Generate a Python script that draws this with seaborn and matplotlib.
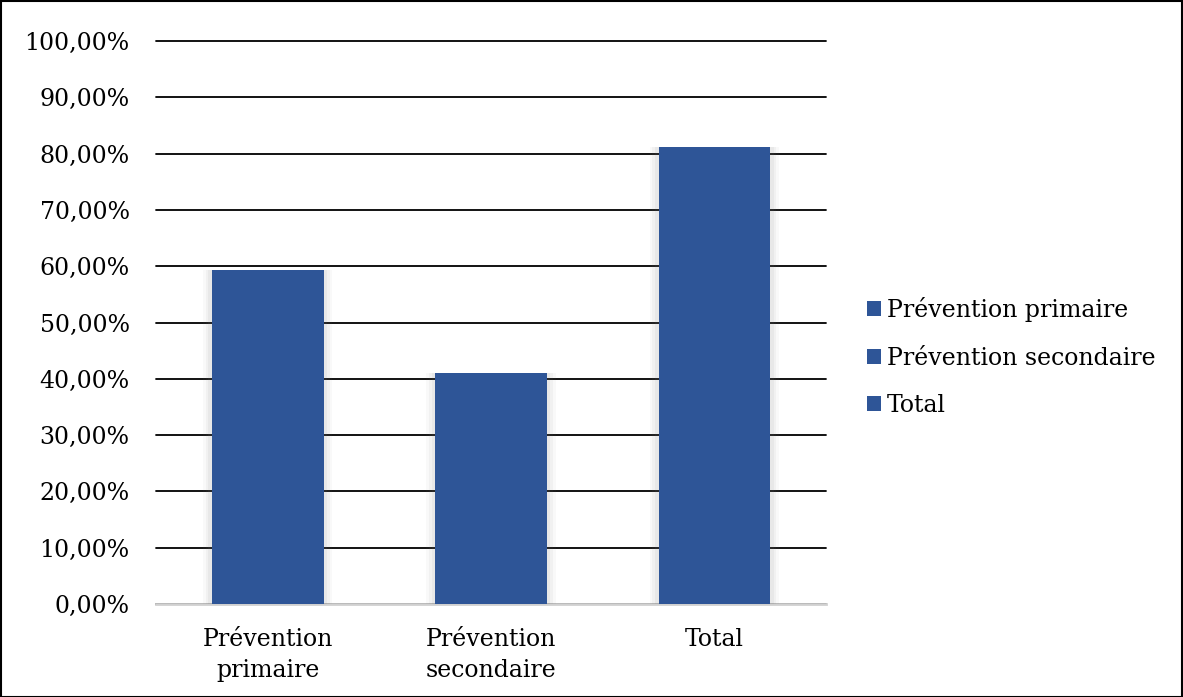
import matplotlib
matplotlib.use("Agg")
import matplotlib.pyplot as plt
import seaborn as sns
import pandas as pd
from matplotlib.patches import Patch, Rectangle
from matplotlib.ticker import FuncFormatter

categories = ["Prévention\nprimaire", "Prévention\nsecondaire", "Total"]
legend_labels = ["Prévention primaire", "Prévention secondaire", "Total"]
values = [59.3, 41.0, 81.2]
yticks = [0, 10, 20, 30, 40, 50, 60, 70, 80, 90, 100]

sns.set_theme(style="white")
plt.rcParams["font.family"] = ["DejaVu Serif"]

FS = 17
df = pd.DataFrame({"cat": categories, "val": values})
color = "#2E5597"

fig = plt.figure(figsize=(11.83, 6.97), dpi=100)
ax = fig.add_axes([156/1183, 1-604/697, (826-156)/1183, (604-41)/697])

# soft shadow layers
for w, a in [(0.58, 0.04), (0.555, 0.06), (0.53, 0.08)]:
    sns.barplot(data=df, x="cat", y="val", color="#7f7f7f", width=w, alpha=a,
                ax=ax, saturation=1, zorder=2, linewidth=0)
sns.barplot(data=df, x="cat", y="val", color=color, width=0.5, ax=ax,
            saturation=1, zorder=3, linewidth=0)

ax.set_ylim(0, 100)
ax.set_xlim(-0.5, 2.5)
ax.set_yticks(yticks)
ax.yaxis.set_major_formatter(FuncFormatter(lambda v, p: f"{v:.2f}%".replace(".", ",")))
ax.grid(axis="y", color="black", linewidth=1.3, zorder=0)
for gl in ax.get_ygridlines():
    gl.set_clip_on(False)
ax.set_axisbelow(True)
for s in ["top", "right", "left"]:
    ax.spines[s].set_visible(False)
ax.spines["bottom"].set_color("#d0d0d0")
ax.spines["bottom"].set_linewidth(2)
ax.spines["bottom"].set_zorder(1)
ax.tick_params(axis="y", length=0, pad=19, labelsize=FS, colors="black")
ax.tick_params(axis="x", length=0, pad=17, labelsize=FS, colors="black")
ax.set_xlabel("")
ax.set_ylabel("")
for lab in ax.get_xticklabels():
    lab.set_linespacing(1.45)

handles = [Patch(facecolor=color, edgecolor="none") for _ in legend_labels]
fig.legend(handles, legend_labels, loc="center left", bbox_to_anchor=(867/1183, 1-357/697),
           frameon=False, fontsize=FS, handlelength=0.6, handleheight=0.6,
           handletextpad=0.25, labelspacing=1.05, borderaxespad=0, borderpad=0,
           labelcolor="black")

fig.patches.append(Rectangle((0.5/1183, 0.5/697), 1-1.5/1183, 1-1.5/697,
                             transform=fig.transFigure, fill=False,
                             edgecolor="black", linewidth=1.5))

fig.savefig("out.png", dpi=100)
